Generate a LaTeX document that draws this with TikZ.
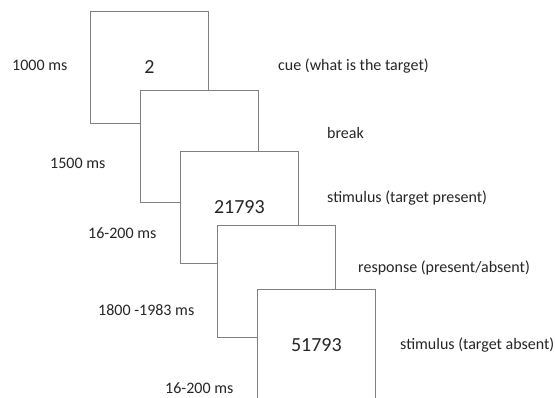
\documentclass[tikz,border=0pt]{standalone}
\usepackage{fontspec}
\setmainfont{Carlito}
\begin{document}
\begin{tikzpicture}[x=1pt,y=-1pt,
  screen/.style={draw=black!50,line width=0.8pt,fill=white,rectangle,
    minimum width=118pt,minimum height=112pt,inner sep=0pt,anchor=north west,
    font=\fontsize{20}{22}\selectfont,text=black!85},
  lbl/.style={anchor=west,inner sep=0pt,font=\fontsize{16}{18}\selectfont,text=black!85}]
  \clip (0,0) rectangle (555,398);
  \fill[white] (0,0) rectangle (555,398);
  % stacked screens of one trial, front to back
  \node[screen] (s1) at (90,11) {2};
  \node[screen] (s2) at (140,90) {};
  \node[screen] (s3) at (180,151) {21793};
  \node[screen] (s4) at (217,225) {};
  \node[screen] (s5) at (257,289) {51793};
  % durations
  \node[lbl] (d1) at (12,65) {1000 ms};
  \node[lbl] (d2) at (50,163) {1500 ms};
  \node[lbl] (d3) at (88,233) {16-200 ms};
  \node[lbl] (d4) at (98,310) {1800 -1983 ms};
  \node[lbl] (d5) at (165,388) {16-200 ms};
  % screen descriptions
  \node[lbl] (c1) at (278,66) {cue (what is the target)};
  \node[lbl] (c2) at (327,133) {break};
  \node[lbl] (c3) at (327,198) {stimulus (target present)};
  \node[lbl] (c4) at (358,268) {response (present/absent)};
  \node[lbl] (c5) at (400,345) {stimulus (target absent)};
\end{tikzpicture}
\end{document}
